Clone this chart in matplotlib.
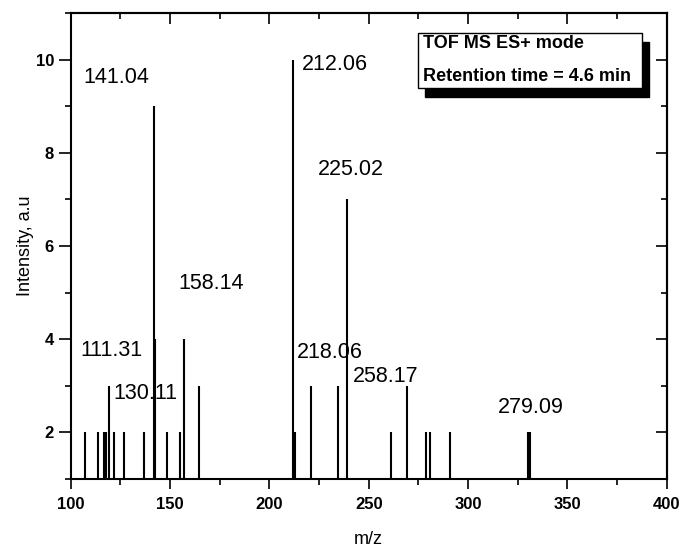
import matplotlib
matplotlib.use("Agg")
import matplotlib.pyplot as plt
from matplotlib.patches import Rectangle
from matplotlib.ticker import MultipleLocator

# peak positions (m/z) and intensities
mz = [107.2, 113.9, 116.8, 117.6, 119.3, 121.9, 127.0, 136.9, 141.9, 142.6,
      148.3, 155.0, 157.2, 164.7, 211.9, 212.9, 220.9, 234.3, 238.9, 261.2,
      269.1, 278.8, 280.8, 290.9, 330.4, 331.2]
intensity = [2, 2, 2, 2, 3, 2, 2, 2, 9, 4,
             2, 2, 4, 3, 10, 2, 3, 3, 7, 2,
             3, 2, 2, 2, 2, 2]

# peak labels and where they sit
labels = ["141.04", "212.06", "225.02", "158.14", "111.31",
          "130.11", "218.06", "258.17", "279.09"]
label_x = [106.2, 216.4, 224.5, 154.0, 104.7, 121.3, 213.9, 242.1, 315.0]
label_y = [9.61, 9.89, 7.64, 5.20, 3.75, 2.82, 3.71, 3.19, 2.54]

box_lines = ["TOF MS ES+ mode", "Retention time = 4.6 min"]

plt.rcParams['font.family'] = ['Liberation Sans', 'DejaVu Sans']

fig = plt.figure(figsize=(6.81, 5.53), dpi=100)
ax = fig.add_axes([0.1038, 0.1344, 0.979 - 0.1038, 0.976 - 0.1344])

ax.vlines(mz, 1, intensity, colors='black', linewidth=1.5)

for t, x, y in zip(labels, label_x, label_y):
    ax.text(x, y, t, fontsize=15.5, va='center', ha='left')

ax.set_xlim(100, 400)
ax.set_ylim(1, 11)
ax.xaxis.set_major_locator(MultipleLocator(50))
ax.xaxis.set_minor_locator(MultipleLocator(25))
ax.yaxis.set_major_locator(MultipleLocator(2))
ax.yaxis.set_minor_locator(MultipleLocator(1))
ax.set_yticks([2, 4, 6, 8, 10])

for s in ax.spines.values():
    s.set_linewidth(1.5)

ax.tick_params(axis='both', which='both', direction='out', width=1.2,
               top=False, right=False)
ax.tick_params(axis='x', which='major', length=7, pad=6)
ax.tick_params(axis='x', which='minor', length=4)
ax.tick_params(axis='y', which='major', length=9, pad=3)
ax.tick_params(axis='y', which='minor', length=4)
for lab in ax.get_xticklabels() + ax.get_yticklabels():
    lab.set_fontweight('bold')
    lab.set_fontsize(12)

# mirrored inward ticks on top and right
sec_x = ax.secondary_xaxis('top')
sec_x.xaxis.set_major_locator(MultipleLocator(50))
sec_x.xaxis.set_minor_locator(MultipleLocator(25))
sec_x.tick_params(which='major', direction='in', length=8, width=1.2, labeltop=False)
sec_x.tick_params(which='minor', direction='in', length=4, width=1.2)
sec_x.spines['top'].set_linewidth(1.5)
sec_y = ax.secondary_yaxis('right')
sec_y.yaxis.set_major_locator(MultipleLocator(2))
sec_y.yaxis.set_minor_locator(MultipleLocator(1))
sec_y.tick_params(which='major', direction='in', length=8, width=1.2, labelright=False)
sec_y.tick_params(which='minor', direction='in', length=4, width=1.2)
sec_y.spines['right'].set_linewidth(1.5)

ax.set_xlabel("m/z", fontsize=13, labelpad=14)
ax.set_ylabel("Intensity, a.u", fontsize=13, labelpad=1)

# info box with drop shadow
ax.add_patch(Rectangle((0.595, 0.820), 0.376, 0.119, transform=ax.transAxes,
                       facecolor='black', edgecolor='black', zorder=5))
ax.add_patch(Rectangle((0.583, 0.839), 0.376, 0.119, transform=ax.transAxes,
                       facecolor='white', edgecolor='black', linewidth=1, zorder=6))
ax.text(0.591, 0.935, box_lines[0], transform=ax.transAxes, fontsize=13,
        fontweight='bold', va='center', ha='left', zorder=7)
ax.text(0.591, 0.864, box_lines[1], transform=ax.transAxes, fontsize=13,
        fontweight='bold', va='center', ha='left', zorder=7)

fig.savefig("out.png", dpi=100)
